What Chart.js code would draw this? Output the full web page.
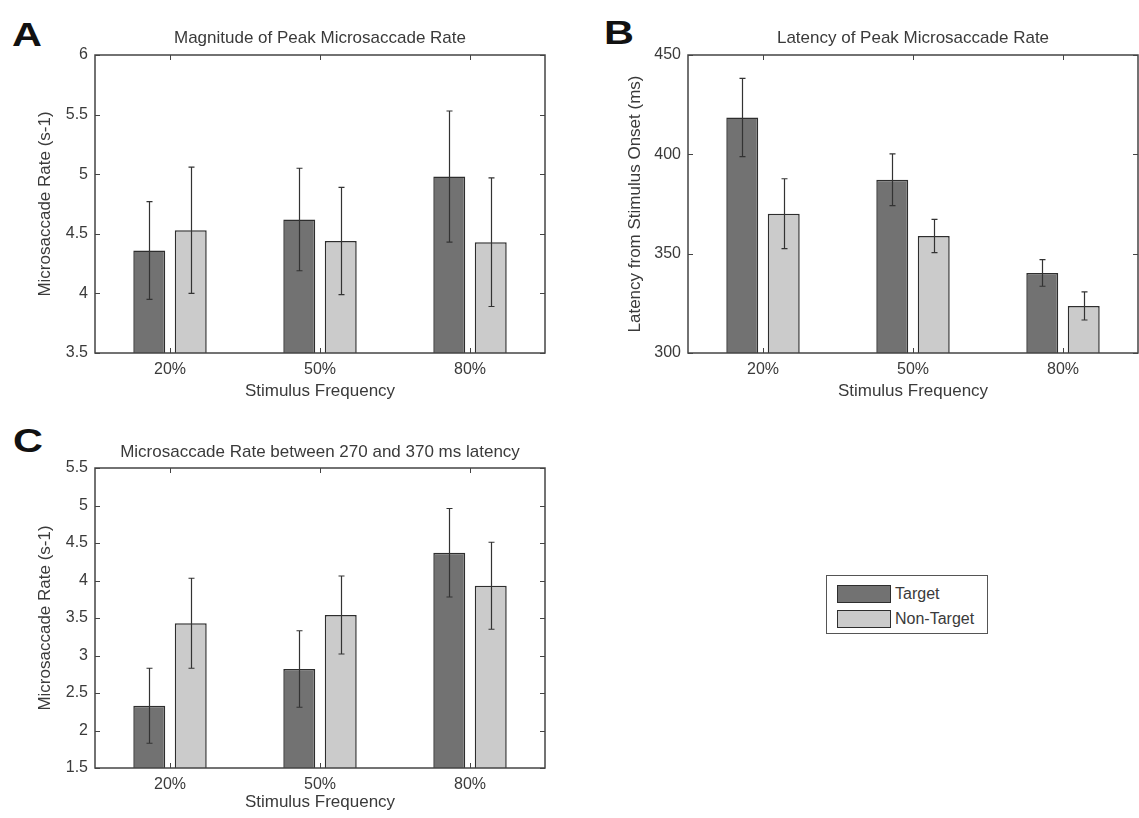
<!DOCTYPE html>
<html>
<head>
<meta charset="utf-8">
<script src="https://cdn.jsdelivr.net/npm/chart.js@4/dist/chart.umd.min.js"></script>
<style>
  html,body{margin:0;padding:0;background:#fff;}
  #fig{position:relative;width:1139px;height:818px;overflow:hidden;font-family:"Liberation Sans",Arial,sans-serif;color:#3a3a3a;}
  canvas{position:absolute;}
  .letter{position:absolute;font-size:34px;line-height:34px;font-weight:bold;color:#111;transform:scaleX(1.22);transform-origin:left top;}
  #legend{position:absolute;left:826px;top:575px;width:160px;height:57px;border:1px solid #555;background:#fff;}
  .lg-row{position:absolute;left:10px;height:20px;display:flex;align-items:center;font-size:16px;}
  .lg-sw{width:54px;height:18px;border:1px solid #2e2e2e;margin-right:4px;box-sizing:border-box;}
</style>
</head>
<body>
<div id="fig">
  <div class="letter" style="left:12px;top:17px">A</div>
  <div class="letter" style="left:604px;top:15px">B</div>
  <div class="letter" style="left:13px;top:423px">C</div>
  <canvas id="chart-a" width="560" height="410" style="left:0;top:0"></canvas>
  <canvas id="chart-b" width="569" height="410" style="left:570px;top:0"></canvas>
  <canvas id="chart-c" width="560" height="398" style="left:0;top:420px"></canvas>
  <div id="legend"></div>
</div>
<script>
// ── DATOS ───────────────────────────────────────────────
const categories  = ['20%', '50%', '80%'];
const seriesNames = ['Target', 'Non-Target'];

// A: magnitude of peak microsaccade rate (s-1)
const peakTarget    = [4.36, 4.62, 4.98];
const peakTargetErr = [0.41, 0.43, 0.55];
const peakNon       = [4.53, 4.44, 4.43];
const peakNonErr    = [0.53, 0.45, 0.54];
const peakTicks     = [3.5, 4, 4.5, 5, 5.5, 6];

// B: latency of peak microsaccade rate (ms)
const latTarget    = [418.5, 387.2, 340.3];
const latTargetErr = [19.7, 13.0, 6.7];
const latNon       = [370.1, 358.9, 323.7];
const latNonErr    = [17.6, 8.4, 7.1];
const latTicks     = [300, 350, 400, 450];

// C: microsaccade rate between 270 and 370 ms (s-1)
const rateTarget    = [2.33, 2.82, 4.37];
const rateTargetErr = [0.50, 0.51, 0.59];
const rateNon       = [3.43, 3.54, 3.93];
const rateNonErr    = [0.60, 0.52, 0.58];
const rateTicks     = [1.5, 2, 2.5, 3, 3.5, 4, 4.5, 5, 5.5];

// ── ESTILO ──────────────────────────────────────────────
const FILLS = ['#727272', '#cbcbcb'];
const EDGE  = '#2e2e2e';
const TEXT  = '#3a3a3a';
const FONT  = '"Liberation Sans", Arial, sans-serif';
Chart.defaults.font.family = FONT;
Chart.defaults.color = TEXT;

// ── PLUGIN: caja, ticks internos y barras de error ──────
const matlabBox = {
  id: 'matlabBox',
  afterDatasetsDraw(chart){
    const { ctx, chartArea:a, scales:{ x, y } } = chart;
    ctx.save();

    // barras de error
    ctx.strokeStyle = '#333';
    ctx.lineWidth = 1.2;
    chart.data.datasets.forEach((ds, di)=>{
      chart.getDatasetMeta(di).data.forEach((bar, i)=>{
        const v = ds.data[i], e = ds.errors[i];
        const yt = y.getPixelForValue(v + e), yb = y.getPixelForValue(v - e);
        const bx = Math.round(bar.x) + 0.5;
        ctx.beginPath();
        ctx.moveTo(bx, yt); ctx.lineTo(bx, yb);
        ctx.moveTo(bx - 3, yt); ctx.lineTo(bx + 3, yt);
        ctx.moveTo(bx - 3, yb); ctx.lineTo(bx + 3, yb);
        ctx.stroke();
      });
    });

    // marco
    ctx.strokeStyle = '#444';
    ctx.lineWidth = 1.5;
    ctx.strokeRect(a.left, a.top, a.right - a.left, a.bottom - a.top);

    // ticks hacia dentro
    const TL = 5;
    ctx.lineWidth = 1;
    ctx.beginPath();
    y.ticks.forEach(t=>{
      const py = Math.round(y.getPixelForValue(t.value)) + 0.5;
      ctx.moveTo(a.left, py);  ctx.lineTo(a.left + TL, py);
      ctx.moveTo(a.right, py); ctx.lineTo(a.right - TL, py);
    });
    x.ticks.forEach((t, i)=>{
      const px = Math.round(x.getPixelForTick(i)) + 0.5;
      ctx.moveTo(px, a.bottom); ctx.lineTo(px, a.bottom - TL);
      ctx.moveTo(px, a.top);    ctx.lineTo(px, a.top + TL);
    });
    ctx.stroke();
    ctx.restore();
  }
};

// ── PANEL ───────────────────────────────────────────────
function makePanel(id, cfg){
  const series = [[cfg.target, cfg.targetErr], [cfg.non, cfg.nonErr]];
  return new Chart(document.getElementById(id), {
    type: 'bar',
    data: {
      labels: categories,
      datasets: series.map((s, i)=>({
        label: seriesNames[i],
        data: s[0],
        errors: s[1],
        backgroundColor: FILLS[i],
        borderColor: EDGE,
        borderWidth: 1.5,
        categoryPercentage: 0.553,
        barPercentage: 0.77
      }))
    },
    options: {
      responsive: false,
      animation: false,
      layout: { padding: { right: cfg.padRight } },
      plugins: {
        legend: { display:false },
        tooltip: { enabled:false },
        title: {
          display: true, text: cfg.title, fullSize: false, color: TEXT,
          font: { size:17, weight:'normal' },
          padding: { top: cfg.titleTop, bottom: cfg.titleBottom }
        }
      },
      scales: {
        x: {
          grid: { display:false, drawTicks:false },
          border: { display:false },
          ticks: { color:TEXT, font:{ size:16 }, padding:7 },
          title: { display:true, text:'Stimulus Frequency', color:TEXT, font:{ size:17 }, padding:{ top:0, bottom:cfg.xTitlePad } },
          afterFit: s=>{ s.height = cfg.xHeight; }
        },
        y: {
          min: cfg.ticks[0], max: cfg.ticks[cfg.ticks.length-1],
          grid: { display:false, drawTicks:false },
          border: { display:false },
          ticks: { color:TEXT, font:{ size:16 }, padding:7, callback: v=>String(v) },
          afterBuildTicks: s=>{ s.ticks = cfg.ticks.map(v=>({ value:v })); },
          title: { display:true, text:cfg.yLabel, color:TEXT, font:{ size:17 }, padding:{ top:cfg.yTitlePad, bottom:0 } },
          afterFit: s=>{ s.width = cfg.yWidth; }
        }
      }
    },
    plugins: [matlabBox]
  });
}

makePanel('chart-a', {
  title:'Magnitude of Peak Microsaccade Rate', yLabel:'Microsaccade Rate (s-1)',
  target:peakTarget, targetErr:peakTargetErr, non:peakNon, nonErr:peakNonErr, ticks:peakTicks,
  yWidth:95, xHeight:57, padRight:15, titleTop:28, titleBottom:6.6, yTitlePad:35, xTitlePad:8
});

makePanel('chart-b', {
  title:'Latency of Peak Microsaccade Rate', yLabel:'Latency from Stimulus Onset (ms)',
  target:latTarget, targetErr:latTargetErr, non:latNon, nonErr:latNonErr, ticks:latTicks,
  yWidth:118, xHeight:57, padRight:1, titleTop:28, titleBottom:6.6, yTitlePad:55, xTitlePad:8
});

makePanel('chart-c', {
  title:'Microsaccade Rate between 270 and 370 ms latency', yLabel:'Microsaccade Rate (s-1)',
  target:rateTarget, targetErr:rateTargetErr, non:rateNon, nonErr:rateNonErr, ticks:rateTicks,
  yWidth:95, xHeight:50, padRight:15, titleTop:22, titleBottom:5.6, yTitlePad:35, xTitlePad:5
});

// ── LEYENDA ─────────────────────────────────────────────
document.getElementById('legend').innerHTML = seriesNames.map((n, i)=>`
  <div class="lg-row" style="top:${8 + i*25}px">
    <span class="lg-sw" style="background:${FILLS[i]}"></span>${n}
  </div>
`).join('');
</script>
</body>
</html>
